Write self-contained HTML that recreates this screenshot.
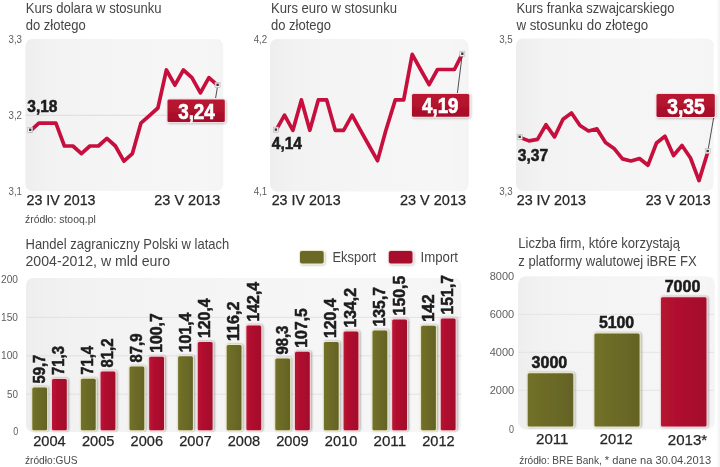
<!DOCTYPE html>
<html lang="pl"><head><meta charset="utf-8"><title>Kursy walut i handel zagraniczny</title>
<style>
html,body{margin:0;padding:0;background:#fff;}
body{width:720px;height:467px;overflow:hidden;}
svg{display:block;font-family:"Liberation Sans",sans-serif;}
.t{font-size:14.6px;fill:#464646;}
.ax{font-size:10.5px;fill:#5e5e5e;}
.d{font-size:14.4px;fill:#262626;stroke:#262626;stroke-width:0.25px;}
.b{font-weight:bold;fill:#1c1c1c;stroke:#1c1c1c;stroke-width:0.55px;}
.s{font-size:10.5px;fill:#4a4a4a;}
.w{font-weight:bold;fill:#fff;stroke:#fff;stroke-width:0.7px;}
</style></head><body>
<svg width="720" height="467" viewBox="0 0 720 467">
<defs>
<linearGradient id="bg" x1="0" y1="0" x2="1" y2="0">
<stop offset="0" stop-color="#eeeeef"/><stop offset="0.12" stop-color="#f2f2f3"/><stop offset="0.5" stop-color="#f5f5f5"/><stop offset="0.9" stop-color="#f6f6f6"/><stop offset="1" stop-color="#f4f4f4"/>
</linearGradient>
<linearGradient id="rb" x1="0" y1="0" x2="0" y2="1"><stop offset="0" stop-color="#bb1531"/><stop offset="1" stop-color="#a50f29"/></linearGradient>
<linearGradient id="go" x1="0" y1="0" x2="1" y2="0"><stop offset="0" stop-color="#727129"/><stop offset="1" stop-color="#646324"/></linearGradient>
<linearGradient id="gr" x1="0" y1="0" x2="1" y2="0"><stop offset="0" stop-color="#b81231"/><stop offset="1" stop-color="#a20f2b"/></linearGradient>
<filter id="sh" x="-20%" y="-20%" width="150%" height="150%"><feGaussianBlur in="SourceAlpha" stdDeviation="1.2"/><feOffset dx="1" dy="1"/><feComponentTransfer><feFuncA type="linear" slope="0.22"/></feComponentTransfer><feMerge><feMergeNode/><feMergeNode in="SourceGraphic"/></feMerge></filter>
<filter id="bs" x="-20%" y="-5%" width="150%" height="110%"><feGaussianBlur in="SourceAlpha" stdDeviation="1.1"/><feOffset dx="1.4" dy="0.4"/><feComponentTransfer><feFuncA type="linear" slope="0.36"/></feComponentTransfer><feMerge><feMergeNode/><feMergeNode in="SourceGraphic"/></feMerge></filter>
</defs>
<rect width="720" height="467" fill="#fff"/><rect x="717.6" y="0" width="2.4" height="467" fill="#f5f5f5"/>

<text x="25.7" y="12.8" class="t" textLength="135.8" lengthAdjust="spacingAndGlyphs">Kurs dolara w stosunku</text>
<text x="25.7" y="30.4" class="t" textLength="60" lengthAdjust="spacingAndGlyphs">do złotego</text>
<rect x="25.4" y="39" width="197.9" height="152" rx="7" fill="url(#bg)"/>
<line x1="25.4" x2="223.3" y1="115.3" y2="115.3" stroke="#d6d6d6" stroke-width="0.8"/>
<path d="M30.4,130.8 L38.9,123.2 L47.4,123.2 L55.9,123.2 L64.4,146.0 L72.9,146.0 L81.4,153.6 L89.9,146.0 L98.4,146.0 L106.9,138.4 L115.4,146.0 L123.9,161.2 L132.4,153.6 L140.9,123.2 L149.4,115.6 L157.9,108.0 L166.4,70.0 L174.9,85.2 L183.4,70.0 L191.9,77.6 L200.4,92.8 L208.9,77.6 L217.4,85.2" fill="none" stroke="#c60f3d" stroke-width="3.7" stroke-linejoin="round" stroke-linecap="round"/>
<text x="271" y="12.8" class="t" textLength="126" lengthAdjust="spacingAndGlyphs">Kurs euro w stosunku</text>
<text x="271" y="30.4" class="t" textLength="60" lengthAdjust="spacingAndGlyphs">do złotego</text>
<rect x="270" y="39" width="198.60000000000002" height="152.5" rx="7" fill="url(#bg)"/>
<path d="M276.0,130.3 L284.5,115.1 L292.9,130.3 L301.4,99.9 L309.8,130.3 L318.3,99.9 L326.7,99.9 L335.2,130.3 L343.6,130.3 L352.1,115.1 L360.5,130.3 L369.0,145.5 L377.5,160.7 L385.9,130.3 L395.3,99.9 L403.7,99.9 L412.2,54.3 L420.6,69.5 L429.1,84.7 L437.5,69.5 L446.0,69.5 L454.4,69.5 L462.0,54.3" fill="none" stroke="#c60f3d" stroke-width="3.7" stroke-linejoin="round" stroke-linecap="round"/>
<text x="516.4" y="12.8" class="t" textLength="158" lengthAdjust="spacingAndGlyphs">Kurs franka szwajcarskiego</text>
<text x="516.4" y="30.4" class="t" textLength="131.8" lengthAdjust="spacingAndGlyphs">w stosunku do złotego</text>
<rect x="516" y="38.5" width="197.60000000000002" height="152.5" rx="7" fill="url(#bg)"/>
<path d="M520.5,137.6 L529.0,140.9 L537.5,139.4 L546.0,124.7 L554.5,136.9 L563.0,119.2 L571.5,113.0 L580.0,125.5 L588.5,131.0 L597.0,128.9 L605.5,142.4 L614.0,148.4 L622.5,158.9 L631.0,161.0 L639.5,158.5 L648.0,165.2 L656.5,143.0 L665.0,136.3 L673.5,155.5 L682.0,145.5 L690.5,158.0 L699.0,180.6 L707.5,153.0" fill="none" stroke="#c60f3d" stroke-width="3.7" stroke-linejoin="round" stroke-linecap="round"/>
<text x="8.5" y="42.5" class="ax" textLength="13.5" lengthAdjust="spacingAndGlyphs">3,3</text>
<text x="8.5" y="118.5" class="ax" textLength="13.5" lengthAdjust="spacingAndGlyphs">3,2</text>
<text x="8.5" y="195" class="ax" textLength="13.5" lengthAdjust="spacingAndGlyphs">3,1</text>
<text x="253.7" y="42.5" class="ax" textLength="13.5" lengthAdjust="spacingAndGlyphs">4,2</text>
<text x="253.7" y="195" class="ax" textLength="13.5" lengthAdjust="spacingAndGlyphs">4,1</text>
<text x="499.2" y="42.5" class="ax" textLength="13.5" lengthAdjust="spacingAndGlyphs">3,5</text>
<text x="499.2" y="195" class="ax" textLength="13.5" lengthAdjust="spacingAndGlyphs">3,3</text>
<line x1="217.8" y1="84.8" x2="215.6" y2="98" stroke="#3a3a3a" stroke-width="0.9"/>
<line x1="462.3" y1="53.7" x2="457.4" y2="93" stroke="#3a3a3a" stroke-width="0.9"/>
<line x1="707.9" y1="151" x2="713.6" y2="118" stroke="#3a3a3a" stroke-width="0.9"/>
<rect x="27.7" y="127.3" width="5" height="5" fill="#f1f1f1" stroke="#b5b5b5" stroke-width="0.6"/><rect x="29.0" y="128.6" width="2.4" height="2.4" fill="#3a3a3a"/>
<rect x="215.1" y="82.3" width="5" height="5" fill="#f1f1f1" stroke="#b5b5b5" stroke-width="0.6"/><rect x="216.4" y="83.6" width="2.4" height="2.4" fill="#3a3a3a"/>
<rect x="273.4" y="127.1" width="5" height="5" fill="#f1f1f1" stroke="#b5b5b5" stroke-width="0.6"/><rect x="274.7" y="128.4" width="2.4" height="2.4" fill="#3a3a3a"/>
<rect x="459.8" y="51.2" width="5" height="5" fill="#f1f1f1" stroke="#b5b5b5" stroke-width="0.6"/><rect x="461.1" y="52.5" width="2.4" height="2.4" fill="#3a3a3a"/>
<rect x="517.2" y="134.3" width="5" height="5" fill="#f1f1f1" stroke="#b5b5b5" stroke-width="0.6"/><rect x="518.5" y="135.6" width="2.4" height="2.4" fill="#3a3a3a"/>
<rect x="705.2" y="148.5" width="5" height="5" fill="#f1f1f1" stroke="#b5b5b5" stroke-width="0.6"/><rect x="706.5" y="149.8" width="2.4" height="2.4" fill="#3a3a3a"/>
<g filter="url(#sh)"><rect x="166.5" y="98.5" width="59.3" height="24.5" rx="2.5" fill="#f3dfe2"/><rect x="167.5" y="99.5" width="57.3" height="22.5" rx="1.5" fill="url(#rb)"/></g>
<text x="178.2" y="118.5" class="w" font-size="22" textLength="36.6" lengthAdjust="spacingAndGlyphs">3,24</text>
<g filter="url(#sh)"><rect x="411" y="93" width="59.3" height="24.8" rx="2.5" fill="#f3dfe2"/><rect x="412" y="94" width="57.3" height="22.8" rx="1.5" fill="url(#rb)"/></g>
<text x="422.1" y="113.4" class="w" font-size="22" textLength="36.3" lengthAdjust="spacingAndGlyphs">4,19</text>
<g filter="url(#sh)"><rect x="655.5" y="93" width="60.3" height="24.9" rx="2.5" fill="#f3dfe2"/><rect x="656.5" y="94" width="58.3" height="22.9" rx="1.5" fill="url(#rb)"/></g>
<text x="667.2" y="113.5" class="w" font-size="22" textLength="37.6" lengthAdjust="spacingAndGlyphs">3,35</text>
<text x="27.3" y="112.4" class="b" font-size="16.8" textLength="30.2" lengthAdjust="spacingAndGlyphs">3,18</text>
<text x="271.8" y="149.3" class="b" font-size="16.8" textLength="30.2" lengthAdjust="spacingAndGlyphs">4,14</text>
<text x="517.8" y="160.9" class="b" font-size="16.8" textLength="30.4" lengthAdjust="spacingAndGlyphs">3,37</text>
<text x="26.5" y="204.6" class="d" textLength="69" lengthAdjust="spacingAndGlyphs">23 IV 2013</text>
<text x="154.3" y="204.6" class="d" textLength="66" lengthAdjust="spacingAndGlyphs">23 V 2013</text>
<text x="271.7" y="204.6" class="d" textLength="69" lengthAdjust="spacingAndGlyphs">23 IV 2013</text>
<text x="400" y="204.6" class="d" textLength="66" lengthAdjust="spacingAndGlyphs">23 V 2013</text>
<text x="516.7" y="204.6" class="d" textLength="69.3" lengthAdjust="spacingAndGlyphs">23 IV 2013</text>
<text x="645.7" y="204.6" class="d" textLength="65" lengthAdjust="spacingAndGlyphs">23 V 2013</text>
<text x="25" y="222.7" class="s" textLength="70.8" lengthAdjust="spacingAndGlyphs">źródło: stooq.pl</text>
<text x="25.5" y="248.5" class="t" textLength="203.8" lengthAdjust="spacingAndGlyphs">Handel zagraniczny Polski w latach</text>
<text x="25.5" y="265.8" class="t" textLength="144.5" lengthAdjust="spacingAndGlyphs">2004-2012, w mld euro</text>
<rect x="26" y="278" width="435.3" height="154" rx="7" fill="url(#bg)"/>
<line x1="26" x2="461.3" y1="394.2" y2="394.2" stroke="#dddddd" stroke-width="0.8"/>
<line x1="26" x2="461.3" y1="355.8" y2="355.8" stroke="#dddddd" stroke-width="0.8"/>
<line x1="26" x2="461.3" y1="317.4" y2="317.4" stroke="#dddddd" stroke-width="0.8"/>
<text x="1" y="283.1" class="ax" textLength="17" lengthAdjust="spacingAndGlyphs">200</text>
<text x="1" y="321.0" class="ax" textLength="17" lengthAdjust="spacingAndGlyphs">150</text>
<text x="1" y="359.4" class="ax" textLength="17" lengthAdjust="spacingAndGlyphs">100</text>
<text x="7" y="397.8" class="ax" textLength="11" lengthAdjust="spacingAndGlyphs">50</text>
<text x="13.3" y="435.3" class="ax" textLength="5" lengthAdjust="spacingAndGlyphs">0</text>
<g filter="url(#sh)"><rect x="299" y="250" width="25.7" height="14.5" rx="3" fill="#ecebd2"/><rect x="300" y="251" width="23.7" height="12.5" rx="2" fill="#6b6a27"/></g>
<g filter="url(#sh)"><rect x="387.8" y="250" width="25.7" height="14.5" rx="3" fill="#f3dfe2"/><rect x="388.8" y="251" width="23.7" height="12.5" rx="2" fill="#a9112e"/></g>
<text x="332.5" y="261.8" class="t" textLength="43.7" lengthAdjust="spacingAndGlyphs" style="font-size:14.6px">Eksport</text>
<text x="420.5" y="261.8" class="t" textLength="37.5" lengthAdjust="spacingAndGlyphs" style="font-size:14.6px">Import</text>
<g filter="url(#bs)"><rect x="31.3" y="386.6" width="16.8" height="44.6" rx="2.2" fill="#e9e6c6"/><rect x="32.3" y="387.6" width="14.8" height="42.6" rx="1.5" fill="url(#go)"/></g>
<g filter="url(#bs)"><rect x="51.0" y="377.9" width="16.8" height="53.3" rx="2.2" fill="#f3d0d6"/><rect x="52.0" y="378.9" width="14.8" height="51.3" rx="1.5" fill="url(#gr)"/></g>
<text transform="translate(44.7,383.6) rotate(-90)" class="b" font-size="16.5" textLength="28.9" lengthAdjust="spacingAndGlyphs">59,7</text>
<text transform="translate(64.4,374.9) rotate(-90)" class="b" font-size="16.5" textLength="28.9" lengthAdjust="spacingAndGlyphs">71,3</text>
<text x="49.5" y="446.2" class="d" text-anchor="middle" textLength="32.5" lengthAdjust="spacingAndGlyphs">2004</text>
<g filter="url(#bs)"><rect x="79.9" y="377.8" width="16.8" height="53.4" rx="2.2" fill="#e9e6c6"/><rect x="80.9" y="378.8" width="14.8" height="51.4" rx="1.5" fill="url(#go)"/></g>
<g filter="url(#bs)"><rect x="99.6" y="370.4" width="16.8" height="60.8" rx="2.2" fill="#f3d0d6"/><rect x="100.6" y="371.4" width="14.8" height="58.8" rx="1.5" fill="url(#gr)"/></g>
<text transform="translate(93.3,374.8) rotate(-90)" class="b" font-size="16.5" textLength="28.9" lengthAdjust="spacingAndGlyphs">71,4</text>
<text transform="translate(113.0,367.4) rotate(-90)" class="b" font-size="16.5" textLength="28.9" lengthAdjust="spacingAndGlyphs">81,2</text>
<text x="98.2" y="446.2" class="d" text-anchor="middle" textLength="32.5" lengthAdjust="spacingAndGlyphs">2005</text>
<g filter="url(#bs)"><rect x="128.5" y="365.4" width="16.8" height="65.8" rx="2.2" fill="#e9e6c6"/><rect x="129.5" y="366.4" width="14.8" height="63.8" rx="1.5" fill="url(#go)"/></g>
<g filter="url(#bs)"><rect x="148.2" y="355.8" width="16.8" height="75.4" rx="2.2" fill="#f3d0d6"/><rect x="149.2" y="356.8" width="14.8" height="73.4" rx="1.5" fill="url(#gr)"/></g>
<text transform="translate(141.9,362.4) rotate(-90)" class="b" font-size="16.5" textLength="28.9" lengthAdjust="spacingAndGlyphs">87,9</text>
<text transform="translate(161.6,352.8) rotate(-90)" class="b" font-size="16.5" textLength="39.6" lengthAdjust="spacingAndGlyphs">100,7</text>
<text x="146.8" y="446.2" class="d" text-anchor="middle" textLength="32.5" lengthAdjust="spacingAndGlyphs">2006</text>
<g filter="url(#bs)"><rect x="177.1" y="355.2" width="16.8" height="76.0" rx="2.2" fill="#e9e6c6"/><rect x="178.1" y="356.2" width="14.8" height="74.0" rx="1.5" fill="url(#go)"/></g>
<g filter="url(#bs)"><rect x="196.8" y="341.0" width="16.8" height="90.2" rx="2.2" fill="#f3d0d6"/><rect x="197.8" y="342.0" width="14.8" height="88.2" rx="1.5" fill="url(#gr)"/></g>
<text transform="translate(190.5,352.2) rotate(-90)" class="b" font-size="16.5" textLength="39.6" lengthAdjust="spacingAndGlyphs">101,4</text>
<text transform="translate(210.2,338.0) rotate(-90)" class="b" font-size="16.5" textLength="39.6" lengthAdjust="spacingAndGlyphs">120,4</text>
<text x="195.4" y="446.2" class="d" text-anchor="middle" textLength="32.5" lengthAdjust="spacingAndGlyphs">2007</text>
<g filter="url(#bs)"><rect x="225.7" y="344.1" width="16.8" height="87.1" rx="2.2" fill="#e9e6c6"/><rect x="226.7" y="345.1" width="14.8" height="85.1" rx="1.5" fill="url(#go)"/></g>
<g filter="url(#bs)"><rect x="245.4" y="324.5" width="16.8" height="106.7" rx="2.2" fill="#f3d0d6"/><rect x="246.4" y="325.5" width="14.8" height="104.7" rx="1.5" fill="url(#gr)"/></g>
<text transform="translate(239.1,341.1) rotate(-90)" class="b" font-size="16.5" textLength="39.6" lengthAdjust="spacingAndGlyphs">116,2</text>
<text transform="translate(258.8,321.5) rotate(-90)" class="b" font-size="16.5" textLength="39.6" lengthAdjust="spacingAndGlyphs">142,4</text>
<text x="243.9" y="446.2" class="d" text-anchor="middle" textLength="32.5" lengthAdjust="spacingAndGlyphs">2008</text>
<g filter="url(#bs)"><rect x="274.3" y="357.6" width="16.8" height="73.6" rx="2.2" fill="#e9e6c6"/><rect x="275.3" y="358.6" width="14.8" height="71.6" rx="1.5" fill="url(#go)"/></g>
<g filter="url(#bs)"><rect x="294.0" y="350.7" width="16.8" height="80.5" rx="2.2" fill="#f3d0d6"/><rect x="295.0" y="351.7" width="14.8" height="78.5" rx="1.5" fill="url(#gr)"/></g>
<text transform="translate(287.7,354.6) rotate(-90)" class="b" font-size="16.5" textLength="28.9" lengthAdjust="spacingAndGlyphs">98,3</text>
<text transform="translate(307.4,347.7) rotate(-90)" class="b" font-size="16.5" textLength="39.6" lengthAdjust="spacingAndGlyphs">107,5</text>
<text x="292.5" y="446.2" class="d" text-anchor="middle" textLength="32.5" lengthAdjust="spacingAndGlyphs">2009</text>
<g filter="url(#bs)"><rect x="322.9" y="341.0" width="16.8" height="90.2" rx="2.2" fill="#e9e6c6"/><rect x="323.9" y="342.0" width="14.8" height="88.2" rx="1.5" fill="url(#go)"/></g>
<g filter="url(#bs)"><rect x="342.6" y="330.6" width="16.8" height="100.6" rx="2.2" fill="#f3d0d6"/><rect x="343.6" y="331.6" width="14.8" height="98.6" rx="1.5" fill="url(#gr)"/></g>
<text transform="translate(336.3,338.0) rotate(-90)" class="b" font-size="16.5" textLength="39.6" lengthAdjust="spacingAndGlyphs">120,4</text>
<text transform="translate(356.0,327.6) rotate(-90)" class="b" font-size="16.5" textLength="39.6" lengthAdjust="spacingAndGlyphs">134,2</text>
<text x="341.1" y="446.2" class="d" text-anchor="middle" textLength="32.5" lengthAdjust="spacingAndGlyphs">2010</text>
<g filter="url(#bs)"><rect x="371.5" y="329.5" width="16.8" height="101.7" rx="2.2" fill="#e9e6c6"/><rect x="372.5" y="330.5" width="14.8" height="99.7" rx="1.5" fill="url(#go)"/></g>
<g filter="url(#bs)"><rect x="391.2" y="318.4" width="16.8" height="112.8" rx="2.2" fill="#f3d0d6"/><rect x="392.2" y="319.4" width="14.8" height="110.8" rx="1.5" fill="url(#gr)"/></g>
<text transform="translate(384.9,326.5) rotate(-90)" class="b" font-size="16.5" textLength="39.6" lengthAdjust="spacingAndGlyphs">135,7</text>
<text transform="translate(404.6,315.4) rotate(-90)" class="b" font-size="16.5" textLength="39.6" lengthAdjust="spacingAndGlyphs">150,5</text>
<text x="389.8" y="446.2" class="d" text-anchor="middle" textLength="32.5" lengthAdjust="spacingAndGlyphs">2011</text>
<g filter="url(#bs)"><rect x="420.1" y="324.8" width="16.8" height="106.4" rx="2.2" fill="#e9e6c6"/><rect x="421.1" y="325.8" width="14.8" height="104.4" rx="1.5" fill="url(#go)"/></g>
<g filter="url(#bs)"><rect x="439.8" y="317.5" width="16.8" height="113.7" rx="2.2" fill="#f3d0d6"/><rect x="440.8" y="318.5" width="14.8" height="111.7" rx="1.5" fill="url(#gr)"/></g>
<text transform="translate(433.5,321.8) rotate(-90)" class="b" font-size="16.5" textLength="27.3" lengthAdjust="spacingAndGlyphs">142</text>
<text transform="translate(453.2,314.5) rotate(-90)" class="b" font-size="16.5" textLength="39.6" lengthAdjust="spacingAndGlyphs">151,7</text>
<text x="438.4" y="446.2" class="d" text-anchor="middle" textLength="32.5" lengthAdjust="spacingAndGlyphs">2012</text>
<text x="25" y="463.9" class="s" textLength="52.5" lengthAdjust="spacingAndGlyphs" style="font-size:11.2px">źródło:GUS</text>
<text x="518.3" y="248" class="t" textLength="161.7" lengthAdjust="spacingAndGlyphs">Liczba firm, które korzystają</text>
<text x="518.3" y="266.3" class="t" textLength="178.4" lengthAdjust="spacingAndGlyphs">z platformy walutowej iBRE FX</text>
<rect x="518" y="276.2" width="196.8" height="153.2" rx="8" fill="url(#bg)"/>
<line x1="518" x2="714" y1="390.4" y2="390.4" stroke="#e1e1e1" stroke-width="0.8"/>
<line x1="518" x2="714" y1="352.4" y2="352.4" stroke="#e1e1e1" stroke-width="0.8"/>
<line x1="518" x2="714" y1="314.4" y2="314.4" stroke="#e1e1e1" stroke-width="0.8"/>
<text x="489.7" y="394.0" class="ax" textLength="24.5" lengthAdjust="spacingAndGlyphs">2000</text>
<text x="489.7" y="356.0" class="ax" textLength="24.5" lengthAdjust="spacingAndGlyphs">4000</text>
<text x="489.7" y="318.0" class="ax" textLength="24.5" lengthAdjust="spacingAndGlyphs">6000</text>
<text x="489.7" y="280.0" class="ax" textLength="24.5" lengthAdjust="spacingAndGlyphs">8000</text>
<text x="509" y="433" class="ax" textLength="5" lengthAdjust="spacingAndGlyphs">0</text>
<g filter="url(#bs)"><rect x="526.7" y="372.3" width="47.6" height="55.3" rx="2.2" fill="#e9e6c6"/><rect x="527.7" y="373.3" width="45.6" height="53.3" rx="1.5" fill="url(#go)"/></g>
<text x="531.6" y="368.1" class="b" font-size="16.5" textLength="35.6" lengthAdjust="spacingAndGlyphs">3000</text>
<text x="536" y="444" class="d" textLength="32.5" lengthAdjust="spacingAndGlyphs">2011</text>
<g filter="url(#bs)"><rect x="593.4" y="332.4" width="47.2" height="95.2" rx="2.2" fill="#e9e6c6"/><rect x="594.4" y="333.4" width="45.2" height="93.2" rx="1.5" fill="url(#go)"/></g>
<text x="598.9" y="328.2" class="b" font-size="16.5" textLength="35.3" lengthAdjust="spacingAndGlyphs">5100</text>
<text x="599.8" y="444" class="d" textLength="32.8" lengthAdjust="spacingAndGlyphs">2012</text>
<g filter="url(#bs)"><rect x="660.0" y="296.3" width="47.5" height="131.3" rx="2.2" fill="#f3d0d6"/><rect x="661.0" y="297.3" width="45.5" height="129.3" rx="1.5" fill="url(#gr)"/></g>
<text x="664.7" y="292.1" class="b" font-size="16.5" textLength="35.7" lengthAdjust="spacingAndGlyphs">7000</text>
<text x="667.8" y="445.2" class="d" textLength="39.4" lengthAdjust="spacingAndGlyphs">2013*</text>
<text x="519.2" y="463.8" class="s" textLength="82.6" lengthAdjust="spacingAndGlyphs" style="font-size:11.2px">źródło: BRE Bank,</text>
<text x="604.8" y="463.8" class="s" textLength="106.3" lengthAdjust="spacingAndGlyphs" style="font-size:11.2px">* dane na 30.04.2013</text>
</svg></body></html>
